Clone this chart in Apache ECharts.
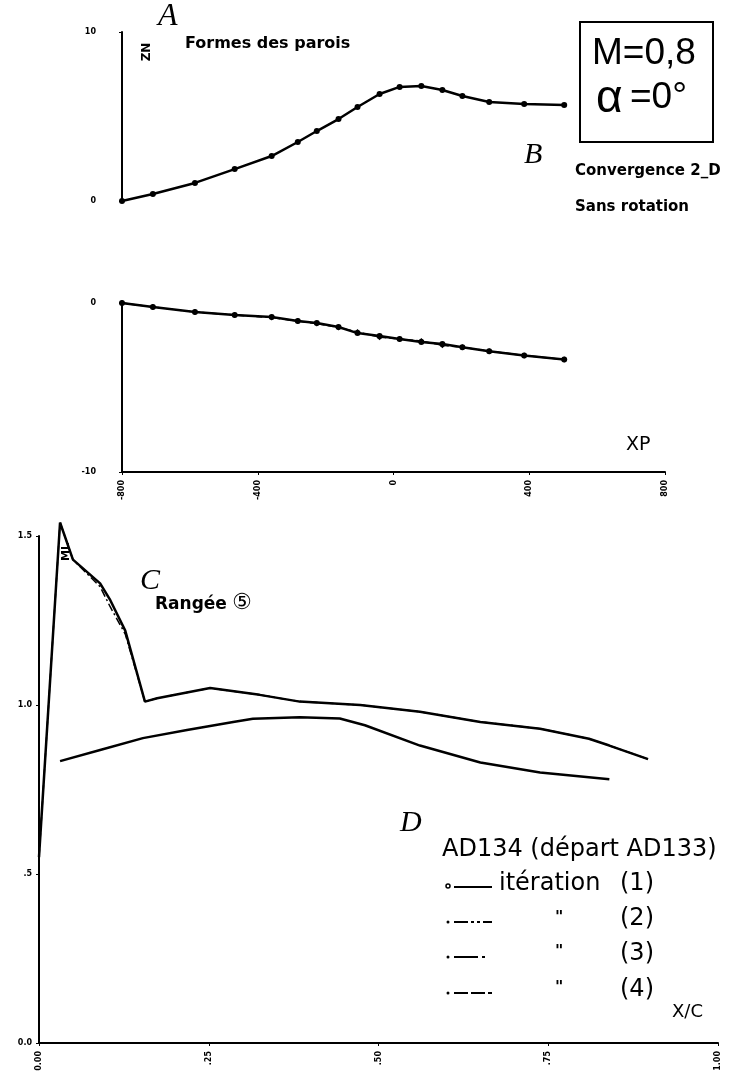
<!DOCTYPE html>
<html lang="fr">
<head>
    <meta charset="UTF-8">
    <title>Formes des parois - Rangée 5</title>
    <script src="https://cdn.jsdelivr.net/npm/echarts@6/dist/echarts.min.js"></script>
    <style>
        html, body { margin: 0; padding: 0; background: #fff; }
        #main { width: 734px; height: 1091px; }
    </style>
</head>
<body>
<div id="main"></div>
<script type="text/javascript">
    // abscisses des points de paroi (XP)
    var xp = [-800, -709, -585, -468, -359, -282, -226, -162, -106, -41, 18, 82, 144, 203, 282, 385, 503];
    // paroi haute / paroi basse (ZN)
    var zUpper = [0, 0.41, 1.07, 1.89, 2.66, 3.49, 4.14, 4.85, 5.56, 6.33, 6.75, 6.80, 6.57, 6.21, 5.86, 5.74, 5.68];
    var zLower = [0, -0.24, -0.53, -0.71, -0.83, -1.07, -1.18, -1.42, -1.78, -1.95, -2.13, -2.31, -2.43, -2.62, -2.85, -3.10, -3.35];
    var zLower4 = [0, -0.24, -0.53, -0.71, -0.86, -1.07, -1.22, -1.45, -1.72, -2.02, -2.13, -2.25, -2.50, -2.62, -2.85, -3.10, -3.35];

    // Rangée 5 : nombre de Mach local
    var xcUp = [0, 0.031, 0.05, 0.09, 0.105, 0.127, 0.156, 0.174, 0.252, 0.325, 0.384, 0.473, 0.561, 0.65, 0.738, 0.81, 0.84, 0.897];
    var mlUp = [0.55, 1.54, 1.43, 1.36, 1.31, 1.22, 1.01, 1.02, 1.05, 1.03, 1.01, 1.00, 0.98, 0.95, 0.93, 0.90, 0.88, 0.84];
    var mlUp2 = [0.55, 1.54, 1.43, 1.35, 1.29, 1.21, 1.01, 1.02, 1.05, 1.03, 1.01, 1.00, 0.98, 0.95, 0.93, 0.90, 0.88, 0.84];
    var xcLo = [0.031, 0.09, 0.153, 0.218, 0.286, 0.315, 0.384, 0.443, 0.48, 0.561, 0.65, 0.738, 0.84];
    var mlLo = [0.834, 0.867, 0.902, 0.926, 0.950, 0.959, 0.964, 0.96, 0.94, 0.88, 0.83, 0.80, 0.78];

    var xpTicks = ['-800', '-400', '0', '400', '800'];
    var zTicksUp = ['0', '10'];
    var zTicksLo = ['-10', '0'];
    var xcTicks = ['0.00', '.25', '.50', '.75', '1.00'];
    var mlTicks = ['0.0', '.5', '1.0', '1.5'];

    function pairs(xs, ys) {
        var res = [];
        for (var i = 0; i < xs.length; i++) {
            res.push([xs[i], ys[i]]);
        }
        return res;
    }

    var tickFont = {color: '#000', fontSize: 8, fontWeight: 'bold', fontFamily: 'DejaVu Sans'};
    var xLine = {onZero: false, lineStyle: {color: '#000', width: 2}};
    var yLine = {show: true, onZero: false, lineStyle: {color: '#000', width: 2}};
    var ticks = {show: true, length: 3, lineStyle: {color: '#000'}};

    var myChart = echarts.init(document.getElementById('main'));
    var option = {
        animation: false,
        backgroundColor: '#fff',
        grid: [
            {left: 122, top: 32, width: 543, height: 169},
            {left: 122, top: 303, width: 543, height: 169},
            {left: 39, top: 536, width: 679, height: 507}
        ],
        xAxis: [
            {gridIndex: 0, type: 'value', min: -800, max: 800, show: false},
            {
                gridIndex: 1, type: 'value', min: -800, max: 800, interval: 400,
                axisLine: xLine, splitLine: {show: false}, axisTick: ticks,
                axisLabel: Object.assign({rotate: 90, margin: 8, formatter: function (v) {
                    return xpTicks[Math.round((v + 800) / 400)];
                }}, tickFont)
            },
            {
                gridIndex: 2, type: 'value', min: 0, max: 1, interval: 0.25,
                axisLine: xLine, splitLine: {show: false}, axisTick: ticks,
                axisLabel: Object.assign({rotate: 90, margin: 8, formatter: function (v) {
                    return xcTicks[Math.round(v / 0.25)];
                }}, tickFont)
            }
        ],
        yAxis: [
            {
                gridIndex: 0, type: 'value', min: 0, max: 10, interval: 10,
                axisLine: yLine, splitLine: {show: false}, axisTick: ticks,
                axisLabel: Object.assign({margin: 26, formatter: function (v) {
                    return zTicksUp[v / 10];
                }}, tickFont)
            },
            {
                gridIndex: 1, type: 'value', min: -10, max: 0, interval: 10,
                axisLine: yLine, splitLine: {show: false}, axisTick: ticks,
                axisLabel: Object.assign({margin: 26, formatter: function (v) {
                    return zTicksLo[(v + 10) / 10];
                }}, tickFont)
            },
            {
                gridIndex: 2, type: 'value', min: 0, max: 1.5, interval: 0.5,
                axisLine: yLine, splitLine: {show: false}, axisTick: ticks,
                axisLabel: Object.assign({margin: 7, formatter: function (v) {
                    return mlTicks[Math.round(v / 0.5)];
                }}, tickFont)
            }
        ],
        series: [
            {
                type: 'line', xAxisIndex: 0, yAxisIndex: 0, data: pairs(xp, zUpper),
                symbol: 'circle', symbolSize: 6, itemStyle: {color: '#000'},
                lineStyle: {color: '#000', width: 2.5}, clip: false
            },
            {
                type: 'line', xAxisIndex: 1, yAxisIndex: 1, data: pairs(xp, zLower),
                symbol: 'circle', symbolSize: 6, itemStyle: {color: '#000'},
                lineStyle: {color: '#000', width: 2.5}, clip: false
            },
            {
                type: 'line', xAxisIndex: 1, yAxisIndex: 1, data: pairs(xp, zLower4),
                symbol: 'diamond', symbolSize: 6, itemStyle: {color: '#000'},
                lineStyle: {color: '#000', width: 1.5, type: [6, 3]}, clip: false
            },
            {
                type: 'line', xAxisIndex: 2, yAxisIndex: 2, data: pairs(xcUp, mlUp),
                showSymbol: false, lineStyle: {color: '#000', width: 2.5}, clip: false
            },
            {
                type: 'line', xAxisIndex: 2, yAxisIndex: 2, data: pairs(xcUp, mlUp2),
                showSymbol: false, lineStyle: {color: '#000', width: 1.5, type: [8, 3, 2, 3]}, clip: false
            },
            {
                type: 'line', xAxisIndex: 2, yAxisIndex: 2, data: pairs(xcLo, mlLo),
                showSymbol: false, lineStyle: {color: '#000', width: 2.5}, clip: false
            }
        ],
        graphic: [
            // lettres manuscrites
            {type: 'text', left: 158, top: 1, style: {text: 'A', font: 'italic 32px "Liberation Serif"', fill: '#000'}},
            {type: 'text', left: 524, top: 140, style: {text: 'B', font: 'italic 30px "Liberation Serif"', fill: '#000'}},
            {type: 'text', left: 140, top: 566, style: {text: 'C', font: 'italic 30px "Liberation Serif"', fill: '#000'}},
            {type: 'text', left: 400, top: 808, style: {text: 'D', font: 'italic 30px "Liberation Serif"', fill: '#000'}},

            // noms des axes verticaux
            {type: 'text', x: 147, y: 52, rotation: Math.PI / 2,
                style: {text: 'ZN', font: 'bold 12px "DejaVu Sans"', fill: '#000', textAlign: 'center', textVerticalAlign: 'middle'}},
            {type: 'text', x: 66, y: 552, rotation: Math.PI / 2,
                style: {text: 'ML', font: 'bold 11px "DejaVu Sans"', fill: '#000', textAlign: 'center', textVerticalAlign: 'middle'}},

            {type: 'text', left: 185, top: 36, style: {text: 'Formes des parois', font: 'bold 16px "DejaVu Sans"', fill: '#000'}},
            {type: 'rect', shape: {x: 580, y: 22, width: 133, height: 120}, style: {fill: 'none', stroke: '#000', lineWidth: 2}},
            {type: 'text', left: 592, top: 35, style: {text: 'M=0,8', font: '37px "Liberation Sans"', fill: '#000'}},
            {type: 'text', left: 596, top: 76, style: {text: 'α', font: '46px "Liberation Sans"', fill: '#000'}},
            {type: 'text', left: 630, top: 79, style: {text: '=0°', font: '37px "Liberation Sans"', fill: '#000'}},
            {type: 'text', left: 575, top: 164, style: {text: 'Convergence 2_D', font: 'bold 15px "DejaVu Sans"', fill: '#000'}},
            {type: 'text', left: 575, top: 200, style: {text: 'Sans rotation', font: 'bold 15px "DejaVu Sans"', fill: '#000'}},
            {type: 'text', left: 626, top: 436, style: {text: 'XP', font: '19px "DejaVu Sans"', fill: '#000'}},

            {type: 'text', left: 155, top: 596, style: {text: 'Rangée', font: 'bold 17px "DejaVu Sans"', fill: '#000'}},
            {type: 'text', left: 232, top: 592, style: {text: '⑤', font: '22px "DejaVu Sans"', fill: '#000'}},
            {type: 'text', left: 442, top: 838, style: {text: 'AD134 (départ AD133)', font: '24px "DejaVu Sans"', fill: '#000'}},

            // légende des itérations
            {type: 'circle', shape: {cx: 448, cy: 886, r: 2}, style: {fill: 'none', stroke: '#000', lineWidth: 1.5}},
            {type: 'line', shape: {x1: 454, y1: 887, x2: 492, y2: 887}, style: {stroke: '#000', lineWidth: 2}},
            {type: 'text', left: 499, top: 872, style: {text: 'itération', font: '24px "DejaVu Sans"', fill: '#000'}},
            {type: 'text', left: 620, top: 872, style: {text: '(1)', font: '24px "DejaVu Sans"', fill: '#000'}},

            {type: 'circle', shape: {cx: 448, cy: 922, r: 1.5}, style: {fill: '#000'}},
            {type: 'line', shape: {x1: 454, y1: 922, x2: 492, y2: 922}, style: {stroke: '#000', lineWidth: 2, lineDash: [14, 3, 3, 3, 3, 3]}},
            {type: 'text', left: 555, top: 910, style: {text: '"', font: 'bold 16px "DejaVu Sans"', fill: '#000'}},
            {type: 'text', left: 620, top: 907, style: {text: '(2)', font: '24px "DejaVu Sans"', fill: '#000'}},

            {type: 'circle', shape: {cx: 448, cy: 957, r: 1.5}, style: {fill: '#000'}},
            {type: 'line', shape: {x1: 454, y1: 957, x2: 492, y2: 957}, style: {stroke: '#000', lineWidth: 2, lineDash: [24, 4, 3, 8]}},
            {type: 'text', left: 555, top: 944, style: {text: '"', font: 'bold 16px "DejaVu Sans"', fill: '#000'}},
            {type: 'text', left: 620, top: 942, style: {text: '(3)', font: '24px "DejaVu Sans"', fill: '#000'}},

            {type: 'circle', shape: {cx: 448, cy: 993, r: 1.5}, style: {fill: '#000'}},
            {type: 'line', shape: {x1: 454, y1: 993, x2: 492, y2: 993}, style: {stroke: '#000', lineWidth: 2, lineDash: [14, 3]}},
            {type: 'text', left: 555, top: 980, style: {text: '"', font: 'bold 16px "DejaVu Sans"', fill: '#000'}},
            {type: 'text', left: 620, top: 978, style: {text: '(4)', font: '24px "DejaVu Sans"', fill: '#000'}},

            {type: 'text', left: 672, top: 1003, style: {text: 'X/C', font: '18px "DejaVu Sans"', fill: '#000'}}
        ]
    };
    myChart.setOption(option);
</script>
</body>
</html>
